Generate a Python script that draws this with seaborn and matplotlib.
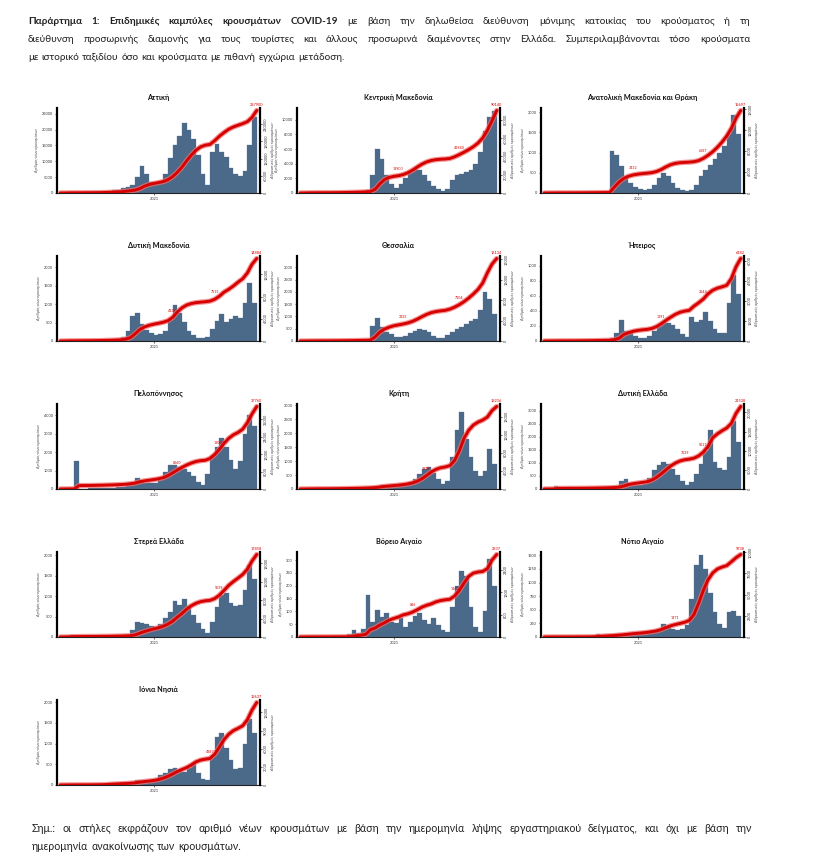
import numpy as np
import pandas as pd
import matplotlib
matplotlib.use("Agg")
import matplotlib.pyplot as plt
import seaborn as sns
from matplotlib import font_manager
from matplotlib.ticker import MultipleLocator, MaxNLocator, FuncFormatter

sns.set_theme(style="ticks")
plt.rcParams['font.family'] = ['Lato', 'DejaVu Sans']

# ---------------- data (half-month bins, Mar 2020 - Nov 2021) ----------------
periods = pd.date_range('2020-03-01', periods=42, freq='SMS')

attiki = [100, 300, 200, 100, 100, 100, 100, 200, 300, 500, 600, 800, 1000, 1500, 1800, 2500,
          5000, 8500, 6000, 3500, 3200, 3500, 6000, 11000, 15000, 18000, 22000, 20000, 17000,
          12000, 6000, 2500, 13000, 15500, 13000, 11500, 8000, 6000, 5500, 7000, 15000, 24000]
kentriki_makedonia = [40, 100, 80, 40, 20, 20, 40, 60, 80, 100, 120, 140, 160, 200, 400, 2400,
                      6000, 4600, 2400, 1200, 700, 1200, 2000, 2800, 3400, 3200, 2400, 1600, 900,
                      500, 240, 600, 1800, 2400, 2600, 2800, 3200, 4000, 5600, 8400, 10400, 11200]
anatoliki_makedonia_thraki = [5, 8, 6, 4, 3, 3, 4, 5, 6, 8, 8, 10, 12, 15, 1050, 945, 670, 420, 250,
                              150, 105, 85, 105, 210, 380, 500, 420, 250, 125, 65, 45, 85, 210, 420,
                              570, 690, 840, 990, 1150, 1470, 1930, 1470]
dytiki_makedonia = [7, 18, 12, 7, 5, 5, 7, 12, 18, 23, 23, 35, 46, 115, 277, 693, 762, 462, 300, 208,
                    162, 185, 277, 578, 970, 762, 508, 277, 162, 92, 69, 115, 323, 554, 739, 508,
                    600, 693, 624, 1040, 1571, 1040]
thessalia = [5, 10, 8, 5, 3, 3, 5, 7, 10, 12, 14, 16, 18, 20, 35, 624, 936, 590, 381, 277, 173, 173,
             208, 312, 416, 485, 451, 347, 208, 139, 104, 243, 381, 485, 590, 693, 797, 900, 1250,
             2000, 1700, 1100]
ipeiros = [2, 4, 3, 2, 1, 1, 2, 3, 4, 5, 6, 7, 8, 10, 34, 113, 282, 136, 102, 68, 45, 34, 68, 136,
           215, 249, 237, 215, 158, 90, 57, 316, 249, 282, 384, 271, 158, 102, 113, 508, 881, 621]
peloponnisos = [20, 30, 20, 1500, 20, 20, 30, 40, 50, 60, 70, 80, 100, 120, 250, 300, 600, 400, 300,
                300, 350, 500, 900, 1300, 1300, 1200, 1100, 900, 700, 400, 200, 800, 1800, 2300,
                2800, 2300, 1600, 1100, 1500, 3000, 4000, 3400]
kriti = [10, 15, 10, 8, 5, 5, 8, 10, 15, 20, 20, 25, 25, 30, 40, 60, 120, 150, 90, 90, 90, 120, 150,
         240, 360, 540, 720, 780, 570, 360, 180, 300, 1140, 2100, 2760, 1800, 1140, 660, 450, 660,
         1440, 900]
dytiki_ellada = [10, 15, 130, 10, 8, 6, 6, 8, 10, 15, 20, 25, 30, 40, 50, 98, 292, 390, 228, 162, 162,
                 195, 422, 715, 910, 1040, 975, 780, 552, 325, 162, 260, 585, 975, 1462, 2275, 1040,
                 812, 715, 1235, 2600, 1788]
sterea_ellada = [10, 20, 60, 10, 8, 6, 6, 8, 10, 12, 17, 20, 25, 30, 40, 166, 374, 354, 312, 270, 250,
                 312, 458, 624, 874, 790, 936, 749, 541, 354, 187, 104, 374, 728, 1040, 1082, 832,
                 749, 790, 1144, 1768, 1414]
voreio_aigaio = [1, 1, 1, 1, 0, 0, 1, 1, 1, 1, 10, 27, 17, 33, 166, 60, 106, 80, 93, 60, 53, 73, 40,
                 60, 83, 93, 66, 50, 73, 46, 27, 20, 116, 199, 259, 239, 116, 40, 20, 100, 305, 199]
notio_aigaio = [2, 3, 2, 1, 1, 1, 2, 2, 3, 3, 16, 47, 31, 31, 31, 47, 47, 62, 62, 47, 47, 62, 78, 94,
                156, 234, 203, 156, 125, 140, 218, 702, 1326, 1513, 1248, 811, 468, 234, 172, 450,
                480, 380]
ionia_nisia = [5, 10, 5, 3, 3, 3, 5, 8, 10, 30, 50, 40, 40, 35, 50, 60, 120, 100, 80, 90, 150, 230,
               300, 380, 420, 330, 320, 420, 520, 300, 150, 120, 700, 1150, 1250, 900, 600, 380, 420,
               1000, 1600, 1250]

region_names = ["Αττική", "Κεντρική Μακεδονία", "Ανατολική Μακεδονία και Θράκη",
                "Δυτική Μακεδονία", "Θεσσαλία", "Ήπειρος",
                "Πελοπόννησος", "Κρήτη", "Δυτική Ελλάδα",
                "Στερεά Ελλάδα", "Βόρειο Αιγαίο", "Νότιο Αιγαίο",
                "Ιόνια Νησιά"]
region_series = [attiki, kentriki_makedonia, anatoliki_makedonia_thraki,
                 dytiki_makedonia, thessalia, ipeiros,
                 peloponnisos, kriti, dytiki_ellada,
                 sterea_ellada, voreio_aigaio, notio_aigaio,
                 ionia_nisia]
left_tick_step = [5000, 2000, 500, 500, 500, 200, 1000, 500, 500, 500, 50, 250, 500]
left_axis_max = [26800, 11600, 2100, 2311, 3467, 1130, 4622, 3050, 3250, 2080, 332, 1560, 2050]
label_bins = [[], [20, 33], [18, 33], [23, 32], [21, 33], [24, 33], [24, 33], [26], [29, 33],
              [33], [23, 32], [27], [31]]
tick_year = "2021"

# ---------------- styling ----------------
W, H = 840, 867
BAR = "#4b6a89"
RED = "#d60000"
GLOW = "#f07070"

fig = plt.figure(figsize=(W / 100, H / 100), dpi=100)
fig.patch.set_facecolor("white")

lefts = [57, 297, 541]
tops = [108, 256, 404, 552, 700]
pw, ph = 203, 85

tick_pos = periods.get_loc(pd.Timestamp(tick_year + "-01-01")) - 0.5
fmt_int = FuncFormatter(lambda v, p: f"{int(round(v))}")

for k, name in enumerate(region_names):
    vals = np.array(region_series[k], dtype=float)
    r, c = divmod(k, 3)
    ax = fig.add_axes([lefts[c] / W, 1 - (tops[r] + ph) / H, pw / W, ph / H])
    df = pd.DataFrame({"pos": np.arange(len(vals)), "cases": vals})
    sns.barplot(data=df, x="pos", y="cases", native_scale=True, color=BAR, saturation=1,
                width=1.0, errorbar=None, edgecolor=BAR, linewidth=0.2, ax=ax)
    ax.set_xlim(-1.2, len(vals) + 0.2)
    ax.set_ylim(0, left_axis_max[k])
    ax.yaxis.set_major_locator(MultipleLocator(left_tick_step[k]))
    ax.yaxis.set_major_formatter(fmt_int)
    ax.set_xticks([tick_pos])
    ax.set_xticklabels([tick_year])
    ax.tick_params(axis="both", labelsize=2.8, length=1.5, width=0.5, pad=1.5, colors="#333333")
    ax.set_xlabel("")
    ax.set_ylabel("Αριθμός νέων κρουσμάτων", fontsize=2.6, color="#444444", labelpad=2)
    for s in ["top", "right"]:
        ax.spines[s].set_visible(False)
    ax.spines["left"].set_linewidth(1.6)
    ax.spines["left"].set_color("black")
    ax.spines["bottom"].set_linewidth(0.8)
    ax.spines["bottom"].set_color("#222222")

    ax2 = ax.twinx()
    cum = np.concatenate([[0.0], np.cumsum(vals)])
    xs = np.arange(len(vals) + 1) - 0.5
    dfc = pd.DataFrame({"x": xs, "cum": cum})
    sns.lineplot(data=dfc, x="x", y="cum", ax=ax2, color=GLOW, linewidth=3.8, alpha=0.75)
    sns.lineplot(data=dfc, x="x", y="cum", ax=ax2, color=RED, linewidth=2.1)
    ax2.set_ylim(0, cum[-1] * 1.03)
    ax2.set_xlim(-1.2, len(vals) + 0.2)
    ax2.yaxis.set_major_locator(MaxNLocator(nbins=5, integer=True))
    ax2.yaxis.set_major_formatter(fmt_int)
    ax2.tick_params(axis="y", labelsize=2.8, length=1.5, width=0.5, pad=1.5, colors="#333333")
    for lab in ax2.get_yticklabels():
        lab.set_rotation(90)
        lab.set_va("center")
    ax2.set_xlabel("")
    ax2.set_ylabel("Αθροιστικός αριθμός κρουσμάτων", fontsize=2.6, color="#444444", labelpad=2)
    for s in ["top", "left", "bottom"]:
        ax2.spines[s].set_visible(False)
    ax2.spines["right"].set_linewidth(1.6)
    ax2.spines["right"].set_color("black")

    # red value labels on the cumulative line
    for b in label_bins[k]:
        ax2.text(xs[b + 1], cum[b + 1] + cum[-1] * 0.06, f"{int(cum[b + 1])}", fontsize=2.6,
                 color=RED, ha="center", va="bottom")
    ax2.text(xs[-1], cum[-1] * 1.04, f"{int(cum[-1])}", fontsize=2.8, color=RED,
             ha="center", va="bottom", clip_on=False)

    ax.set_title(name, fontsize=5.2, fontweight="bold", color="#111111", pad=6)

# ---------------- text blocks ----------------
renderer = fig.canvas.get_renderer()


def place_line(words, x0, x1, y, size, family, justify=True, color="#222222"):
    texts, widths = [], []
    for w, wt in words:
        t = fig.text(0, 1 - y / H, w, fontsize=size, fontweight=wt, family=family,
                     color=color, va="center", ha="left")
        widths.append(t.get_window_extent(renderer).width)
        texts.append(t)
    if justify and len(words) > 1:
        gap = (x1 - x0 - sum(widths)) / (len(words) - 1)
    else:
        gap = size * 0.28 * 100 / 72
    x = x0
    for t, w in zip(texts, widths):
        t.set_x(x / W)
        x += w + gap


title_family = ['Lato', 'DejaVu Sans']
bold_part = "Παράρτημα 1: Επιδημικές καμπύλες κρουσμάτων COVID-19".split()
line1 = [(w, "bold") for w in bold_part] + [(w, "normal") for w in
         "με βάση την δηλωθείσα διεύθυνση μόνιμης κατοικίας του κρούσματος ή τη".split()]
line2 = [(w, "normal") for w in
         "διεύθυνση προσωρινής διαμονής για τους τουρίστες και άλλους προσωρινά διαμένοντες στην Ελλάδα.  Συμπεριλαμβάνονται τόσο κρούσματα".split()]
line3 = [(w, "normal") for w in
         "με ιστορικό ταξιδίου όσο και κρούσματα με πιθανή εγχώρια μετάδοση.".split()]
place_line(line1, 28, 750, 21, 7.2, title_family)
place_line(line2, 28, 750, 39, 7.2, title_family)
place_line(line3, 28, 750, 57, 7.2, title_family, justify=False)

avail = {f.name for f in font_manager.fontManager.ttflist}
foot_family = ['Liberation Sans Narrow', 'DejaVu Sans'] if 'Liberation Sans Narrow' in avail else ['Lato', 'DejaVu Sans']
foot1 = [(w, "normal") for w in
         "Σημ.: οι στήλες εκφράζουν τον αριθμό νέων κρουσμάτων με βάση την ημερομηνία λήψης εργαστηριακού δείγματος, και όχι με βάση την".split()]
foot2 = [(w, "normal") for w in "ημερομηνία ανακοίνωσης των κρουσμάτων.".split()]
place_line(foot1, 32, 752, 828, 7.6, foot_family)
place_line(foot2, 32, 752, 846, 7.6, foot_family, justify=False)

fig.savefig("out.png", dpi=100, facecolor="white")
